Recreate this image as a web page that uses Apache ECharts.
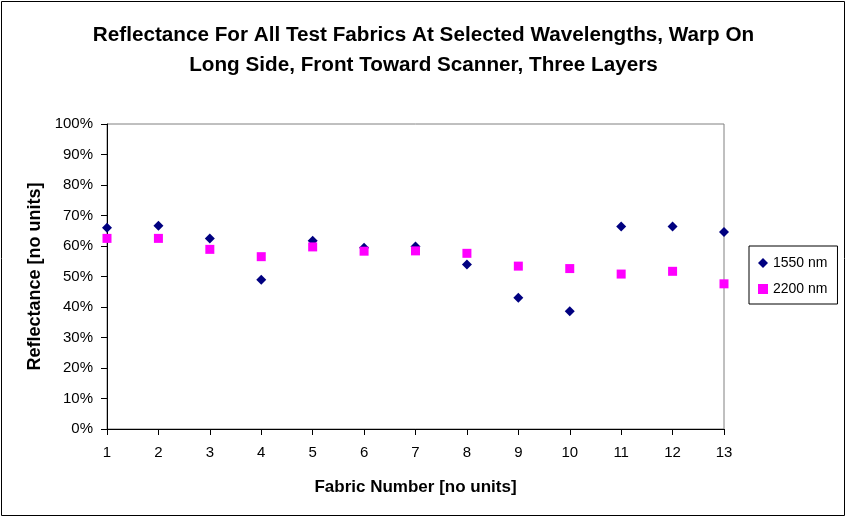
<!DOCTYPE html>
<html><head><meta charset="utf-8">
<script src="https://cdn.jsdelivr.net/npm/echarts@6/dist/echarts.min.js"></script>
<style>html,body{margin:0;padding:0;background:#fff}#c{width:847px;height:518px}</style>
</head><body><div id="c"></div>
<script>
const fabrics = [1,2,3,4,5,6,7,8,9,10,11,12,13];
const nm1550 = [66.0,66.6,62.5,48.9,61.7,59.4,59.8,53.9,43.0,38.6,66.4,66.4,64.6];
const nm2200 = [62.5,62.5,58.9,56.5,59.7,58.3,58.4,57.6,53.4,52.6,50.8,51.7,47.6];
const seriesNames = ['1550 nm','2200 nm'];
const titleText = 'Reflectance For All Test Fabrics At Selected Wavelengths, Warp On\nLong Side, Front Toward Scanner, Three Layers';

const font = '"Liberation Sans", Arial, sans-serif';
const chart = echarts.init(document.getElementById('c'), null, {renderer:'canvas'});
chart.setOption({
  animation:false,
  backgroundColor:'#fff',
  title:{text:titleText,left:'center',top:16,textStyle:{fontFamily:font,fontSize:20.7,fontWeight:'bold',color:'#000',lineHeight:29.5}},
  graphic:[{type:'rect',shape:{x:1.5,y:1.5,width:843,height:514},style:{fill:null,stroke:'#000',lineWidth:1}}],
  grid:{left:107,right:123,top:124,bottom:89,show:true,borderColor:'#808080',borderWidth:1},
  legend:{orient:'vertical',left:749,top:246,padding:[10,10,8,9],itemGap:12,
    borderColor:'#000',borderWidth:1,itemWidth:10,itemHeight:10,
    textStyle:{fontFamily:font,fontSize:14,color:'#000'},
    data:[{name:seriesNames[0],icon:'diamond'},{name:seriesNames[1],icon:'rect'}]},
  xAxis:{type:'value',min:1,max:13,interval:1,name:'Fabric Number [no units]',nameLocation:'middle',nameGap:50,
    nameTextStyle:{fontFamily:font,fontSize:17,fontWeight:'bold',color:'#000'},
    axisLine:{onZero:false,lineStyle:{color:'#000'}},axisTick:{show:true,length:6,inside:false,lineStyle:{color:'#000'}},
    axisLabel:{fontFamily:font,fontSize:15,color:'#000',margin:16},splitLine:{show:false}},
  yAxis:{type:'value',min:0,max:100,interval:10,name:'Reflectance [no units]',nameLocation:'middle',nameGap:62,
    nameTextStyle:{fontFamily:font,fontSize:18,fontWeight:'bold',color:'#000'},
    axisLine:{show:true,lineStyle:{color:'#000'}},axisTick:{show:true,length:6,lineStyle:{color:'#000'}},
    axisLabel:{fontFamily:font,fontSize:15,color:'#000',margin:14,formatter:v=>v+'%'},splitLine:{show:false}},
  series:[
    {name:seriesNames[0],type:'scatter',symbol:'diamond',symbolSize:10,itemStyle:{color:'#000080',opacity:1},
     data:fabrics.map((f,i)=>[f,nm1550[i]])},
    {name:seriesNames[1],type:'scatter',symbol:'rect',symbolSize:9,itemStyle:{color:'#FF00FF',opacity:1},
     data:fabrics.map((f,i)=>[f,nm2200[i]])}
  ]
});
</script></body></html>
